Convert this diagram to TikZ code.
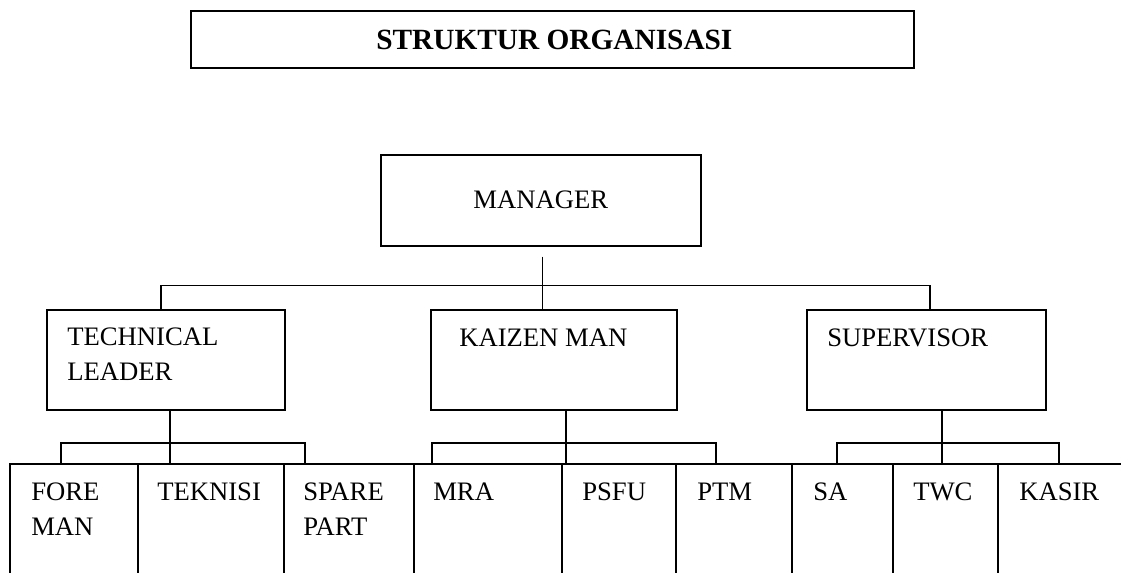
\documentclass[tikz,border=0pt]{standalone}
\usepackage{fontspec}
\setmainfont{Liberation Serif}
\usetikzlibrary{calc}
\newcommand\orgbox[5]{\node[box, minimum width={(#4-#2)*0.75pt}, minimum height={(#5-#3)*0.75pt}] (#1) at (#2,#3) {};}
\begin{document}
\begin{tikzpicture}[x=0.75pt,y=-0.75pt,
  box/.style={draw, line width=1.3pt, inner sep=0pt, anchor=north west},
  conn/.style={draw, line width=0.9pt},
  lbl/.style={inner sep=0pt, anchor=north west, align=left, font=\fontsize{20}{26.25}\selectfont}]
\useasboundingbox (0,0) rectangle (1121,572);
\clip (0,0) rectangle (1121,572);
% boxes
\orgbox{title}{190}{10}{913}{67}
\orgbox{mgr}{380}{154}{700}{245}
\orgbox{tech}{46}{309}{284}{409}
\orgbox{kai}{430}{309}{676}{409}
\orgbox{sup}{806}{309}{1045}{409}
\orgbox{fore}{9}{463}{137}{600}
\orgbox{tek}{137}{463}{283}{600}
\orgbox{spare}{283}{463}{413}{600}
\orgbox{mra}{413}{463}{561}{600}
\orgbox{psfu}{561}{463}{675}{600}
\orgbox{ptm}{675}{463}{791}{600}
\orgbox{sa}{791}{463}{892}{600}
\orgbox{twc}{892}{463}{997}{600}
\orgbox{kasir}{997}{463}{1140}{600}
% labels
\node[inner sep=0pt, anchor=base, font=\fontsize{22}{26}\selectfont\bfseries] (titletext) at ($(title.north)+(2,39)$) {STRUKTUR ORGANISASI};
\node[inner sep=0pt, anchor=base, font=\fontsize{20}{26.25}\selectfont] (mgrtext) at ($(mgr.north)+(0,54)$) {MANAGER};
\node[lbl] (techtext) at ($(tech.north west)+(21,18.5)$) {TECHNICAL\\LEADER};
\node[lbl] (kaitext) at ($(kai.north west)+(29,19.5)$) {KAIZEN MAN};
\node[lbl] (suptext) at ($(sup.north west)+(21,19.5)$) {SUPERVISOR};
\node[lbl] (foretext) at ($(fore.north west)+(22,19.5)$) {FORE\\MAN};
\node[lbl] (tektext) at ($(tek.north west)+(20,19.5)$) {TEKNISI};
\node[lbl] (sparetext) at ($(spare.north west)+(20,19.5)$) {SPARE\\PART};
\node[lbl] (mratext) at ($(mra.north west)+(20,19.5)$) {MRA};
\node[lbl] (psfutext) at ($(psfu.north west)+(21,19.5)$) {PSFU};
\node[lbl] (ptmtext) at ($(ptm.north west)+(22,19.5)$) {PTM};
\node[lbl] (satext) at ($(sa.north west)+(22,19.5)$) {SA};
\node[lbl] (twctext) at ($(twc.north west)+(21,19.5)$) {TWC};
\node[lbl] (kasirtext) at ($(kasir.north west)+(22,19.5)$) {KASIR};
% connectors: manager level
\coordinate (mtop) at ($(mgr.south)+(2,10)$);
\coordinate (bus) at ($(mgr.south)+(0,39)$);
\draw[conn] (mtop) -- (mtop |- kai.north);
\draw[conn] ($(tech.north west)+(115,0)$) |- (bus) -| ($(sup.north west)+(124,0)$);
% technical leader
\coordinate (t1) at ($(tech.south west)+(124,0)$);
\draw[conn] (t1) -- (t1 |- tek.north);
\draw[conn] ($(fore.north west)+(52,0)$) -- ++(0,-20) -| ($(spare.north west)+(22,0)$);
% kaizen man
\coordinate (k1) at ($(kai.south west)+(136,0)$);
\draw[conn] (k1) -- (k1 |- psfu.north);
\draw[conn] ($(mra.north west)+(19,0)$) -- ++(0,-20) -| ($(ptm.north west)+(41,0)$);
% supervisor
\coordinate (s1) at ($(sup.south west)+(136,0)$);
\draw[conn] (s1) -- (s1 |- twc.north);
\draw[conn] ($(sa.north west)+(46,0)$) -- ++(0,-20) -| ($(kasir.north west)+(62,0)$);
\end{tikzpicture}
\end{document}
